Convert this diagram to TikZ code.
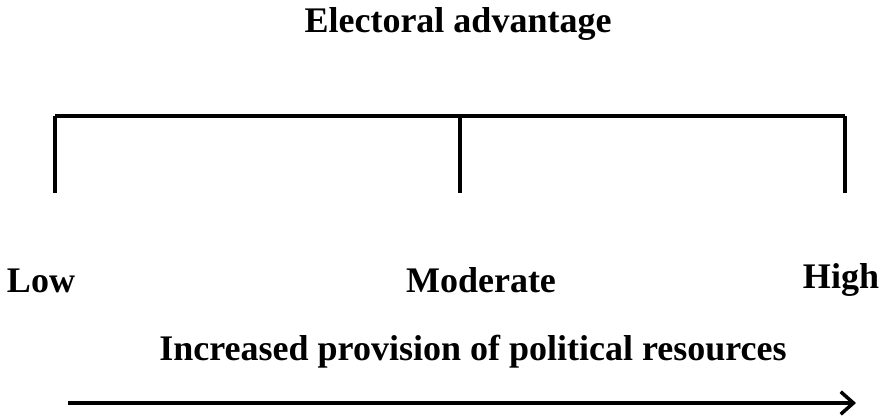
\documentclass[tikz,border=0pt]{standalone}
\usepackage{fontspec}
\setmainfont{Liberation Serif}
\usetikzlibrary{arrows.meta}

\begin{document}
\begin{tikzpicture}
	[x=0.025cm,y=-0.025cm,
	 lbl/.style={font=\fontsize{25.6}{30}\selectfont\bfseries,inner sep=0pt,anchor=base},
	 bar/.style={line width=2.5pt}]
\useasboundingbox (0,0) rectangle (881,418);
\node[lbl] (title) at (458,33) {Electoral advantage};
% bracket: top bar and three ticks
\draw[bar] (55,116) coordinate (b1) -- (460,116) coordinate (b2) -- (845,116) coordinate (b3);
\path (55,193) coordinate (t1)
(460,193) coordinate (t2)
(845,193) coordinate (t3);
\foreach \n in {1,2,3}
\draw[bar] (b\n) -- (t\n);
% levels
\node[lbl] (low) at (41,293) {Low};
\node[lbl] (mod) at (481,293) {Moderate};
\node[lbl] (high) at (841,289) {High};
\node[lbl] (prov) at (473,361) {Increased provision of political resources};
% direction
\path (68,403) coordinate (a0) (856,403) coordinate (a1);
\draw[bar,-{Straight Barb[length=9pt,width=16pt,line width=2.5pt]}] (a0) -- (a1);
\end{tikzpicture}
\end{document}
